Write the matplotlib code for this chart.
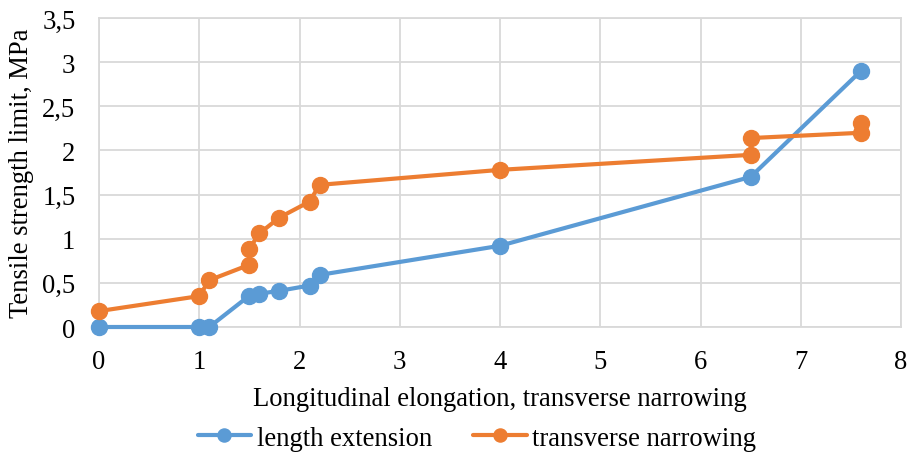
import matplotlib
matplotlib.use("Agg")
import matplotlib.pyplot as plt
from matplotlib.ticker import FuncFormatter, MultipleLocator

plt.rcParams['font.family'] = ['Liberation Serif', 'DejaVu Serif']

length_x = [0, 1, 1.1, 1.5, 1.6, 1.8, 2.1, 2.2, 4, 6.5, 7.6]
length_y = [0, 0, 0, 0.355, 0.377, 0.41, 0.47, 0.59, 0.92, 1.7, 2.9]

trans_x = [0, 1, 1.1, 1.5, 1.5, 1.6, 1.8, 2.1, 2.2, 4, 6.5, 6.5, 7.6, 7.6]
trans_y = [0.18, 0.35, 0.53, 0.705, 0.887, 1.06, 1.24, 1.42, 1.61, 1.78, 1.95, 2.14, 2.2, 2.31]

blue = '#5B9BD5'
orange = '#ED7D31'
FS = 19.2

fig = plt.figure(figsize=(9.08, 4.56), dpi=100)
ax = fig.add_axes([99/908, 1-328/456, (901-99)/908, (328-19)/456])

ax.plot(length_x, length_y, color=blue, lw=3, marker='o', ms=11.5, label='length extension',
        solid_capstyle='round', zorder=3, clip_on=False)
ax.plot(trans_x, trans_y, color=orange, lw=3, marker='o', ms=11.5, label='transverse narrowing',
        solid_capstyle='round', zorder=3, clip_on=False)

ax.set_xlim(0, 8)
ax.set_ylim(0, 3.5)
ax.xaxis.set_major_locator(MultipleLocator(1))
ax.yaxis.set_major_locator(MultipleLocator(0.5))

def fmt(v, pos):
    return ('%g' % v).replace('.', ',')
ax.yaxis.set_major_formatter(FuncFormatter(fmt))
ax.xaxis.set_major_formatter(FuncFormatter(fmt))

ax.grid(True, color='#D9D9D9', lw=1.3)
ax.set_axisbelow(True)
for s in ax.spines.values():
    s.set_color('#D9D9D9')
    s.set_linewidth(1.3)
ax.tick_params(length=0, labelsize=FS, colors='black')
ax.tick_params(axis='y', pad=17)
ax.tick_params(axis='x', pad=16)
ax.set_xlabel('Longitudinal elongation, transverse narrowing', fontsize=FS, va='center')
ax.set_ylabel('Tensile strength limit, MPa', fontsize=FS, va='center')
ax.xaxis.set_label_coords(0.5, -(400-328)/309)
ax.yaxis.set_label_coords((22-99)/802, 0.5)

leg = fig.legend(loc='center', bbox_to_anchor=(477/908, 1-439/456), ncol=2, frameon=False,
                 fontsize=FS, handlelength=2.0, columnspacing=1.55, handletextpad=0.22,
                 markerscale=0.82)

fig.savefig('out.png', dpi=100)
